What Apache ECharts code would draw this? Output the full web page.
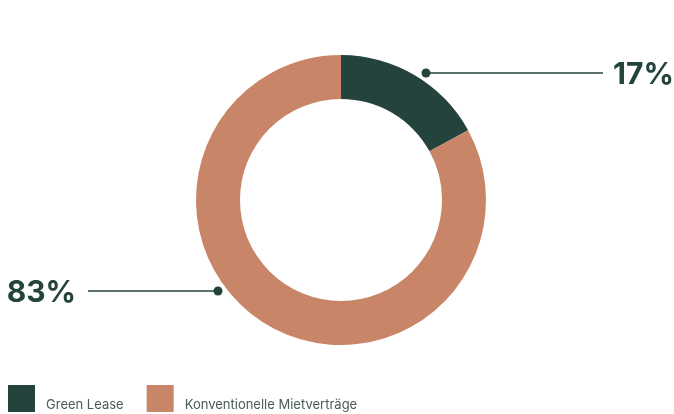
<!DOCTYPE html>
<html>
<head>
<meta charset="utf-8">
<script src="https://cdn.jsdelivr.net/npm/echarts@6/dist/echarts.min.js"></script>
<style>
  html, body { margin: 0; padding: 0; background: #fff; }
  #chart { width: 674px; height: 414px; }
</style>
</head>
<body>
<div id="chart"></div>
<script>
const categories = ['Green Lease', 'Konventionelle Mietverträge']
const shares = [17, 83]
const colors = ['#24433d', '#c98567']

// where each label sits (dot on the ring, line end, text side)
const labelSpots = [
  { dot: [426, 73], lineEnd: 603, textX: 613, align: 'left' },
  { dot: [218, 291], lineEnd: 88, textX: 76, align: 'right' }
]

const mycharts = echarts.init(document.getElementById('chart'))
mycharts.setOption({
  animation: false,
  color: colors,
  legend: {
    left: 8,
    top: 385,
    padding: 0,
    itemWidth: 27,
    itemHeight: 27,
    itemGap: 23,
    icon: 'rect',
    selectedMode: false,
    formatter: name => `{t|${name}}`,
    textStyle: {
      rich: {
        t: {
          fontFamily: 'Inter',
          fontSize: 13,
          color: '#4b5c58',
          padding: [13, 0, 0, 6]
        }
      }
    },
    data: categories
  },
  graphic: labelSpots.map(s => ({
    type: 'circle',
    shape: { cx: s.dot[0], cy: s.dot[1], r: 4.5 },
    style: { fill: '#24433d' },
    z: 10
  })),
  series: [
    {
      type: 'pie',
      center: [341, 200],
      radius: [101, 145],
      startAngle: 90,
      clockwise: true,
      emphasis: { disabled: true },
      label: {
        show: true,
        formatter: '{c}%',
        fontFamily: 'Inter',
        fontWeight: 700,
        fontSize: 30,
        color: '#24433d'
      },
      labelLine: {
        show: true,
        lineStyle: { color: '#24433d', width: 1.5 }
      },
      labelLayout: (params) => {
        const s = labelSpots[params.dataIndex]
        return {
          x: s.textX,
          y: s.dot[1] + 2,
          align: s.align,
          verticalAlign: 'middle',
          labelLinePoints: [s.dot, s.dot, [s.lineEnd, s.dot[1]]]
        }
      },
      data: categories.map((name, i) => ({ name, value: shares[i] }))
    }
  ]
})
</script>
</body>
</html>
